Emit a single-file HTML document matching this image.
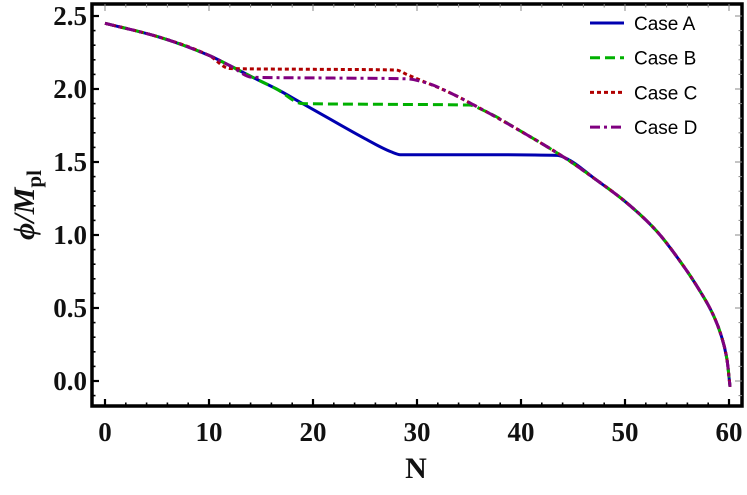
<!DOCTYPE html>
<html><head><meta charset="utf-8"><style>
html,body{margin:0;padding:0;background:#fff}
svg{display:block}
.tk{font-family:"Liberation Serif",serif;font-weight:bold;font-size:27px;fill:#111}
.lg{font-family:"Liberation Sans",sans-serif;font-size:19px;fill:#000}
</style></head><body>
<svg id="chart" width="747" height="495" viewBox="0 0 747 495" xmlns="http://www.w3.org/2000/svg">
<g id="axes"></g>
<g id="series"></g>
<g id="legend"></g>
<text x="416" y="478" text-anchor="middle" class="tk" style="font-size:30px">N</text>
<text transform="translate(34,205) rotate(-90)" text-anchor="middle" class="tk" style="font-size:30px;font-style:italic">ϕ/M<tspan dy="7" style="font-size:21px;font-style:normal">pl</tspan></text>
</svg>
<script>
const xTicks=[0,10,20,30,40,50,60];
const yTicks=[0.0,0.5,1.0,1.5,2.0,2.5];
const yTickLabels=["0.0","0.5","1.0","1.5","2.0","2.5"];
const seriesNames=["Case A","Case B","Case C","Case D"];
const nA=[0,5,10,12,14.2,16.5,19,21,25,27.5,28.4,36,43.5,44.6,47,50,53,55.5,57,58.5,59.3,59.8,60.1];
const phiA=[2.45,2.36,2.23,2.16,2.08,2.00,1.90,1.82,1.66,1.57,1.55,1.55,1.545,1.515,1.39,1.23,1.03,0.80,0.64,0.45,0.30,0.15,-0.04];
const nB=[0,5,10,12,14.2,16.5,19,27,35,36.5,40,44.4,47,50,53,55.5,57,58.5,59.3,59.8,60.1];
const phiB=[2.45,2.36,2.23,2.16,2.08,2.00,1.90,1.895,1.89,1.85,1.71,1.52,1.39,1.23,1.03,0.80,0.64,0.45,0.30,0.15,-0.04];
const nC=[0,5,10,12,20,28,29,30,33,36,40,44.4,47,50,53,55.5,57,58.5,59.3,59.8,60.1];
const phiC=[2.45,2.36,2.23,2.14,2.135,2.13,2.10,2.07,1.98,1.87,1.71,1.52,1.39,1.23,1.03,0.80,0.64,0.45,0.30,0.15,-0.04];
const nD=[0,5,10,12,14.2,22,29,31,33,36,40,44.4,47,50,53,55.5,57,58.5,59.3,59.8,60.1];
const phiD=[2.45,2.36,2.23,2.16,2.08,2.075,2.07,2.04,1.98,1.87,1.71,1.52,1.39,1.23,1.03,0.80,0.64,0.45,0.30,0.15,-0.04];

const NS="http://www.w3.org/2000/svg";
const L=92,R=742,T=4,B=406;
const xS=v=>105+v*10.4;
const yS=v=>381-v*146;
function mk(t,a,p){const e=document.createElementNS(NS,t);for(const k in a)e.setAttribute(k,a[k]);p.appendChild(e);return e;}
const ax=document.getElementById('axes');
const frame=mk('rect',{x:L,y:T,width:R-L,height:B-T,fill:'none',stroke:'#000','stroke-width':3.5},ax);


for(let v=0;v<=60.01;v+=2){
  const major=Math.abs(v%10)<0.01, len=major?7:3.5, x=xS(v);
  const t1=mk('line',{x1:x,x2:x,y1:B,y2:B-len,stroke:'#000','stroke-width':major?2.2:1.6},ax);
  
  
  const t2=mk('line',{x1:x,x2:x,y1:T,y2:T+len,stroke:'#888','stroke-width':1},ax);
  
  
}
xTicks.forEach(v=>{const t=mk('text',{x:xS(v),y:441,'text-anchor':'middle',class:'tk'},ax);t.textContent=v;
  
  });
for(let i=-1;i<=26;i++){
  const v=i/10, major=i%5===0, len=major?7:3.5, y=yS(v);
  if(y<T+2||y>B-2) continue;
  const t1=mk('line',{x1:L,x2:L+len,y1:y,y2:y,stroke:'#000','stroke-width':major?2.2:1.6},ax);
  
  
  const t2=mk('line',{x1:R,x2:R-len,y1:y,y2:y,stroke:'#888','stroke-width':1},ax);
  
  
}
yTicks.forEach((v,i)=>{const t=mk('text',{x:87,y:yS(v)+9,'text-anchor':'end',class:'tk'},ax);t.textContent=yTickLabels[i];
  
  });

const styles=[
 {c:'#0000b0',d:'',w:3},
 {c:'#00b000',d:'10,5',w:3},
 {c:'#b00000',d:'4,3',w:3},
 {c:'#800080',d:'10,4,3,4',w:3}];
const data=[[nA,phiA],[nB,phiB],[nC,phiC],[nD,phiD]];
const sg=document.getElementById('series');
function monotone(pts){
  const n=pts.length, dx=[], s=[], m=[];
  for(let i=0;i<n-1;i++){dx[i]=pts[i+1][0]-pts[i][0];s[i]=(pts[i+1][1]-pts[i][1])/dx[i];}
  m[0]=s[0]; m[n-1]=s[n-2];
  for(let i=1;i<n-1;i++){
    if(s[i-1]*s[i]<=0) m[i]=0;
    else { const w1=2*dx[i]+dx[i-1], w2=dx[i]+2*dx[i-1]; m[i]=(w1+w2)/(w1/s[i-1]+w2/s[i]); }
  }
  let d='M'+pts[0][0]+','+pts[0][1];
  for(let i=0;i<n-1;i++){
    const h=dx[i]/3;
    d+=' C'+(pts[i][0]+h)+','+(pts[i][1]+m[i]*h)+' '+(pts[i+1][0]-h)+','+(pts[i+1][1]-m[i+1]*h)+' '+pts[i+1][0]+','+pts[i+1][1];
  }
  return d;
}
data.forEach((s,k)=>{
  const pts=s[0].map((n,i)=>[xS(n),yS(s[1][i])]);
  const p=mk('path',{d:monotone(pts),fill:'none',stroke:styles[k].c,'stroke-width':styles[k].w,'stroke-dasharray':styles[k].d},sg);
  
  
});
const lg=document.getElementById('legend');
seriesNames.forEach((nm,k)=>{
  const y=23+k*34.7;
  const ln=mk('line',{x1:590,x2:624,y1:y,y2:y,stroke:styles[k].c,'stroke-width':3,'stroke-dasharray':styles[k].d},lg);
  
  
  const t=mk('text',{x:634,y:y+7,class:'lg'},lg);t.textContent=nm;
  
  
});
</script>
</body></html>
